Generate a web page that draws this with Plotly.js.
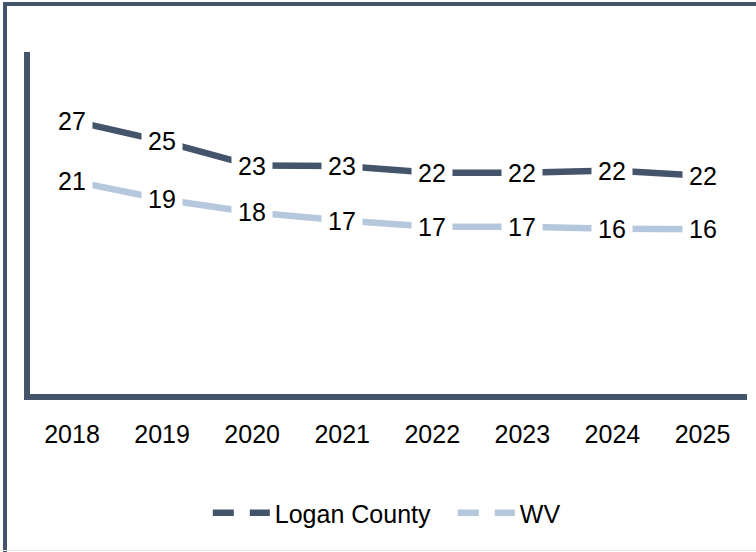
<!DOCTYPE html>
<html>
<head>
<meta charset="utf-8">
<script src="https://cdn.plot.ly/plotly-3.0.1.min.js"></script>
<style>
  html, body { margin: 0; padding: 0; background: #ffffff; }
  #wrap { position: relative; width: 756px; height: 552px; overflow: hidden; }
  #chart { position: absolute; left: 0; top: 0; width: 756px; height: 552px; }
  #frame { position: absolute; left: 3px; top: 2px; width: 800px; height: 600px;
           border-top: 4px solid #44546a; border-left: 4px solid #44546a; pointer-events: none; }
  #bottomline { position: absolute; left: 0; top: 550px; width: 756px; height: 1px; background: #e6e6e6; }
</style>
</head>
<body>
<div id="wrap">
  <div id="chart"></div>
  <div id="frame"></div>
  <div id="bottomline"></div>
</div>
<script>
const years = ['2018', '2019', '2020', '2021', '2022', '2023', '2024', '2025'];
const loganCounty = [27.0, 25.0, 22.6, 22.55, 21.9, 21.9, 22.1, 21.6];
const wv = [21.1, 19.3, 18.0, 17.2, 16.6, 16.6, 16.4, 16.35];
const seriesNames = ['Logan County', 'WV'];

const darkColor = '#44546a';
const lightColor = '#b4c7dc';
const fontFamily = 'Arial, "Liberation Sans", sans-serif';
const labelSize = 25;

const traces = [
  { x: years, y: loganCounty, type: 'scatter', mode: 'lines', name: seriesNames[0],
    line: { color: darkColor, width: 6.5 }, showlegend: false, hoverinfo: 'skip' },
  { x: years, y: wv, type: 'scatter', mode: 'lines', name: seriesNames[1],
    line: { color: lightColor, width: 6.5 }, showlegend: false, hoverinfo: 'skip' },
  { x: [null], y: [null], type: 'scatter', mode: 'lines', name: seriesNames[0],
    line: { color: darkColor, width: 6.5, dash: '21px,16px' }, showlegend: true },
  { x: [null], y: [null], type: 'scatter', mode: 'lines', name: seriesNames[1],
    line: { color: lightColor, width: 6.5, dash: '21px,16px' }, showlegend: true }
];

function labelsFor(vals) {
  return vals.map((v, i) => ({
    x: i, y: v, xref: 'x', yref: 'y',
    text: String(Math.round(v)), showarrow: false,
    bgcolor: '#ffffff', borderpad: 6,
    font: { family: fontFamily, size: labelSize, color: '#000000' },
    xanchor: 'center', yanchor: 'middle'
  }));
}

const layout = {
  width: 756, height: 552,
  margin: { l: 30, r: 9, t: 52, b: 158 },
  paper_bgcolor: '#ffffff', plot_bgcolor: '#ffffff',
  font: { family: fontFamily, size: labelSize, color: '#000000' },
  showlegend: true,
  xaxis: {
    type: 'category', range: [-0.466, 7.494],
    showgrid: false, zeroline: false,
    showline: true, linecolor: darkColor, linewidth: 6,
    ticks: '', ticklabelstandoff: 13,
    tickfont: { family: fontFamily, size: labelSize, color: '#000000' }
  },
  yaxis: {
    range: [0.2, 33.73],
    showgrid: false, zeroline: false,
    showline: true, linecolor: darkColor, linewidth: 6,
    showticklabels: false, ticks: ''
  },
  legend: {
    orientation: 'h', x: 0.248, xanchor: 'left', y: -0.348, yanchor: 'middle',
    font: { family: fontFamily, size: labelSize, color: '#000000' },
    itemwidth: 57, entrywidth: 173, bgcolor: 'rgba(0,0,0,0)'
  },
  annotations: labelsFor(loganCounty).concat(labelsFor(wv))
};

Plotly.newPlot('chart', traces, layout, { displayModeBar: false, staticPlot: true });
</script>
</body>
</html>
